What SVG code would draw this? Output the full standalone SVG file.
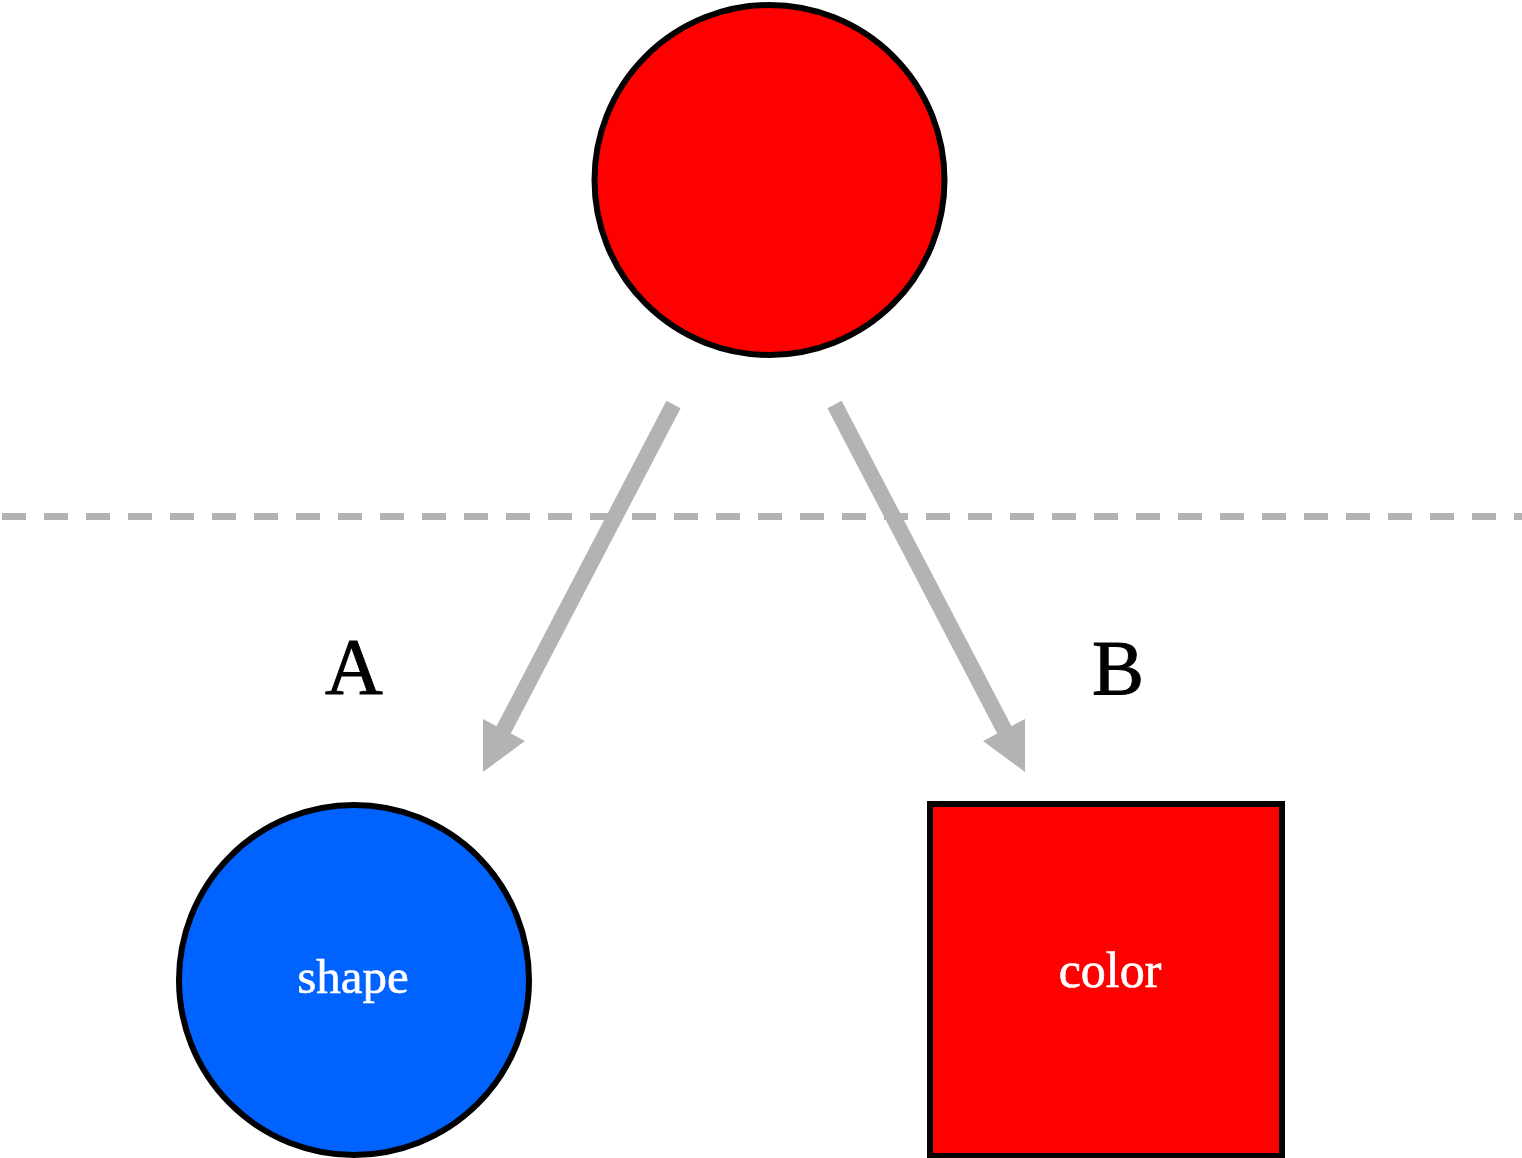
<svg xmlns="http://www.w3.org/2000/svg" width="1522" height="1158" viewBox="0 0 1522 1158">
<style>
.node{stroke:#000;stroke-width:6}
.conn{stroke:#b3b3b3;stroke-width:16;fill:none}
.head{fill:#b3b3b3}
.lbl{font-family:"Liberation Serif","Times New Roman",serif;text-anchor:middle}
</style>
<rect width="1522" height="1158" fill="#fff"/>
<line x1="2" y1="516.5" x2="1522" y2="516.5" stroke="#b3b3b3" stroke-width="7" stroke-dasharray="24 18"/>
<g id="connectors">
<line class="conn" x1="673.5" y1="404.5" x2="502" y2="733"/>
<polygon class="head" points="483,719 525,741 483,772"/>
<line class="conn" x1="834.5" y1="404.5" x2="1006" y2="733"/>
<polygon class="head" points="983,741 1025,719 1025,772"/>
</g>
<g id="top">
<circle class="node" cx="769.5" cy="180" r="175" fill="#ff0000"/>
</g>
<g id="labelA"><text class="lbl" x="354" y="694" font-size="80" stroke="#000" stroke-width="1">A</text></g>
<g id="labelB"><text class="lbl" x="1118" y="694" font-size="78" stroke="#000" stroke-width="1">B</text></g>
<g id="shape">
<circle class="node" cx="354" cy="980" r="175" fill="#0063ff"/>
<text class="lbl" x="353" y="993" font-size="49" fill="#fff" stroke="#fff" stroke-width="0.6">shape</text>
</g>
<g id="color">
<rect class="node" x="930" y="804" width="352" height="352" fill="#ff0000"/>
<text class="lbl" x="1110" y="987" font-size="50" fill="#fff" stroke="#fff" stroke-width="0.6">color</text>
</g>
</svg>
